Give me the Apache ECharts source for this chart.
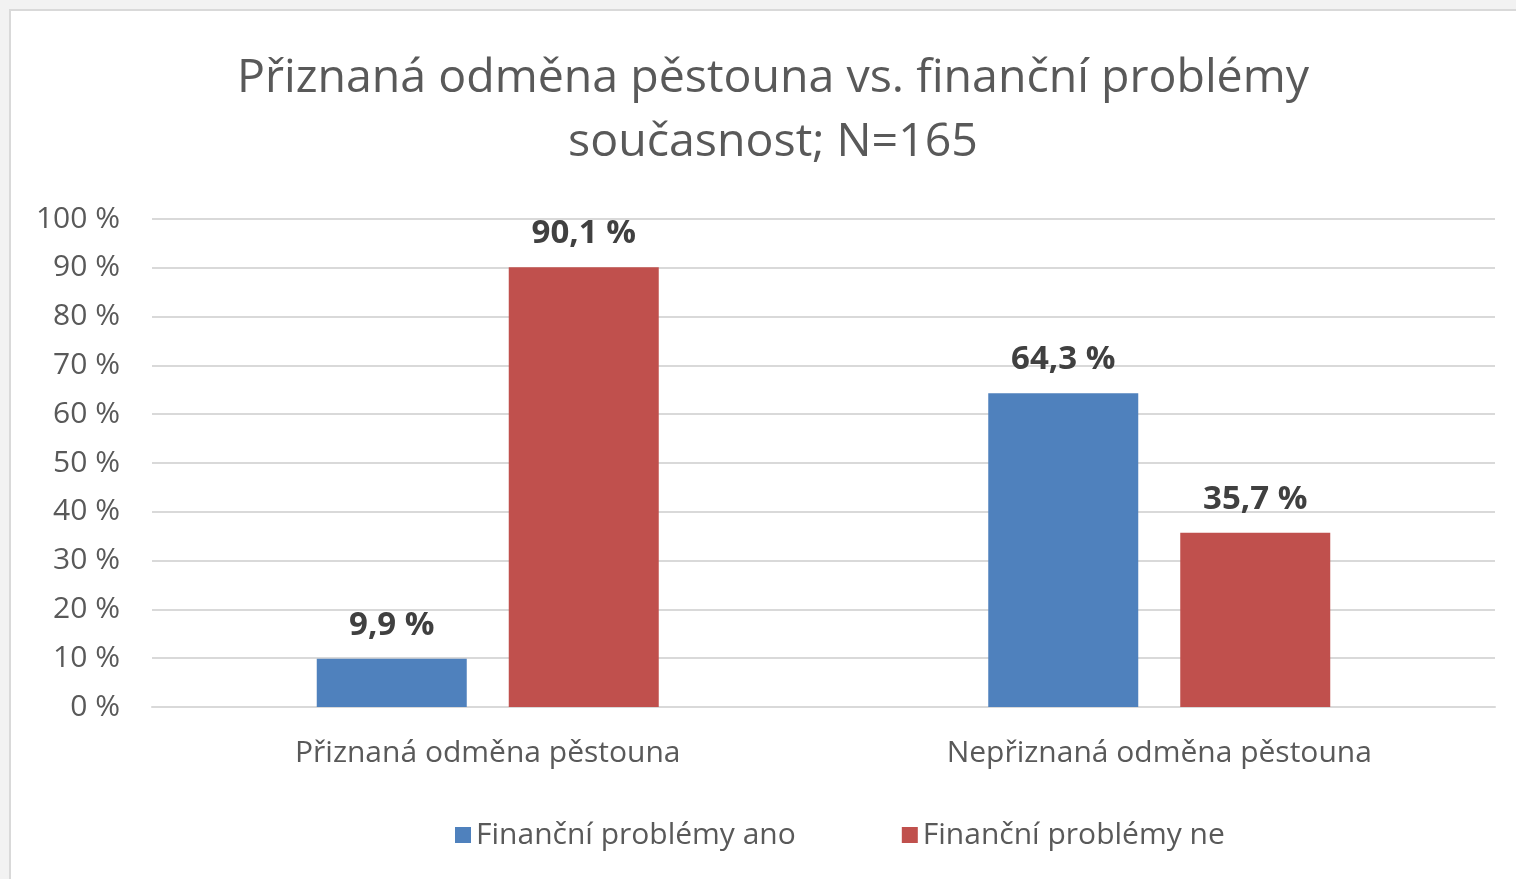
<!DOCTYPE html>
<html>
<head>
<meta charset="utf-8">
<script src="https://cdn.jsdelivr.net/npm/echarts@6/dist/echarts.min.js"></script>
<style>
    html, body { margin: 0; padding: 0; background: #f2f2f2; overflow: hidden; }
    #panel {
        position: absolute; left: 9px; top: 9px; width: 1507px; height: 870px;
        border-left: 2px solid #d9d9d9; border-top: 2px solid #d9d9d9; background: #fff;
    }
    #chart { width: 1505px; height: 868px; }
</style>
</head>
<body>
<div id="panel"><div id="chart"></div></div>
<script>
var categories = ['Přiznaná odměna pěstouna', 'Nepřiznaná odměna pěstouna']
var seriesNames = ['Finanční problémy ano', 'Finanční problémy ne']
var valuesAno = [9.9, 64.3]
var valuesNe = [90.1, 35.7]
var yTicks = [0, 10, 20, 30, 40, 50, 60, 70, 80, 90, 100]

var font = 'Open Sans'
var grey = '#595959'

function pct(v) {
    return v.toFixed(1).replace('.', ',') + ' %'
}

var myChart = echarts.init(document.getElementById('chart'))

var barLabel = {
    show: true,
    position: 'top',
    distance: 17,
    fontFamily: font,
    fontSize: 33,
    fontWeight: 'bold',
    color: '#404040',
    formatter: function (p) { return pct(p.value) }
}

var option = {
    animation: false,
    title: {
        text: 'Přiznaná odměna pěstouna vs. finanční problémy\nsoučasnost; N=165',
        left: 762,
        textAlign: 'center',
        top: 36,
        padding: 0,
        textStyle: {
            fontFamily: font,
            fontSize: 46.5,
            fontWeight: 'normal',
            color: grey,
            lineHeight: 64
        }
    },
    legend: {
        data: seriesNames,
        left: 439,
        top: 804,
        icon: 'rect',
        itemWidth: 16,
        itemHeight: 16,
        itemGap: 106,
        textStyle: { fontFamily: font, fontSize: 30, color: grey }
    },
    grid: {
        left: 141,
        right: 21,
        top: 208,
        bottom: 172
    },
    xAxis: {
        type: 'category',
        data: categories,
        axisLine: { lineStyle: { color: '#d9d9d9', width: 2 } },
        axisTick: { show: false },
        axisLabel: { fontFamily: font, fontSize: 30, color: grey, margin: 31 }
    },
    yAxis: {
        type: 'value',
        min: yTicks[0],
        max: yTicks[yTicks.length - 1],
        interval: 10,
        axisLine: { show: false },
        axisTick: { show: false },
        splitLine: { lineStyle: { color: '#d9d9d9', width: 2 } },
        axisLabel: {
            fontFamily: font, fontSize: 30, color: grey, margin: 32,
            formatter: '{value} %'
        }
    },
    series: [{
        name: seriesNames[0],
        type: 'bar',
        data: valuesAno,
        barWidth: 150,
        barGap: '28%',
        itemStyle: { color: '#4f81bd' },
        label: barLabel
    }, {
        name: seriesNames[1],
        type: 'bar',
        data: valuesNe,
        barWidth: 150,
        barGap: '28%',
        itemStyle: { color: '#c0504d' },
        label: barLabel
    }]
}

myChart.setOption(option)
</script>
</body>
</html>
